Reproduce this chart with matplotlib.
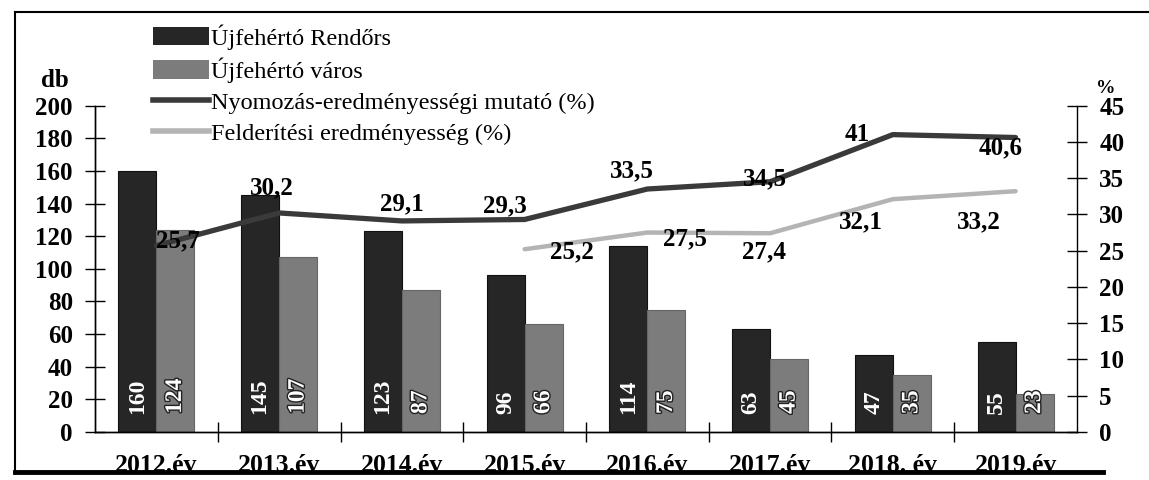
import matplotlib
matplotlib.use('Agg')
import matplotlib.pyplot as plt
import matplotlib.patheffects as pe
from matplotlib.lines import Line2D
from matplotlib.patches import Patch
import numpy as np

years = ['2012.év', '2013.év', '2014.év', '2015.év', '2016.év', '2017.év', '2018. év', '2019.év']
rendorors = [160, 145, 123, 96, 114, 63, 47, 55]
varos = [124, 107, 87, 66, 75, 45, 35, 23]
nyomozas = [25.7, 30.2, 29.1, 29.3, 33.5, 34.5, 41, 40.6]
felderitesi_years = [3, 4, 5, 6, 7]   # 2015-2019
felderitesi = [25.2, 27.5, 27.4, 32.1, 33.2]

# label offsets in pixels (dx, dy)
nyom_off = [(22, 5), (-7, 25), (0, 17), (-20, 14), (-15, 18), (-5, 3), (-36, 0), (-15, -10)]
feld_off = [(47, -3), (38, -6), (-6, -19), (-32, -23), (-37, -31)]

plt.rcParams['font.family'] = ['Liberation Serif', 'DejaVu Serif']
plt.rcParams['font.size'] = 17

fig = plt.figure(figsize=(11.49, 4.8), dpi=100)
ax = fig.add_axes([0.0827, 0.1, 0.8546, 0.68])
ax2 = ax.twinx()

x = np.arange(len(years))
w = 0.31
dark = '#262626'
grey = '#7c7c7c'
ax.bar(x - w / 2, rendorors, w, color=dark, edgecolor='#111111', linewidth=0.8, zorder=2)
ax.bar(x + w / 2, varos, w, color=grey, edgecolor='#666666', linewidth=0.8, zorder=2)

for i in range(len(years)):
    ax.annotate(str(rendorors[i]), (x[i] - w / 2, 0), xytext=(0, 18), textcoords='offset pixels',
                rotation=90, ha='center', va='bottom', color='white', fontweight='bold', fontsize=17, zorder=3)
    ax.annotate(str(varos[i]), (x[i] + w / 2, 0), xytext=(0, 18), textcoords='offset pixels',
                rotation=90, ha='center', va='bottom', color='white', fontweight='bold', fontsize=17, zorder=3,
                path_effects=[pe.withStroke(linewidth=2, foreground='#222222')])

ax.set_xlim(-0.5, len(years) - 0.5)
ax.set_ylim(0, 200)
ax.set_yticks(np.arange(0, 201, 20))
ax.set_xticks(x)
ax.set_xticklabels(years, fontweight='bold', fontsize=18.5)
ax.set_xticks(np.arange(0.5, len(years) - 0.5, 1), minor=True)
ax.tick_params(axis='x', which='major', length=0, pad=16)
ax.tick_params(axis='x', which='minor', direction='inout', length=14, width=1)
ax.tick_params(axis='y', direction='inout', length=14, width=1, pad=9, labelsize=18)
for lbl in ax.get_yticklabels():
    lbl.set_fontweight('bold')

ax2.set_ylim(0, 45)
ax2.set_yticks(np.arange(0, 46, 5))
ax2.tick_params(axis='y', direction='inout', length=14, width=1, pad=9, labelsize=18)
for lbl in ax2.get_yticklabels():
    lbl.set_fontweight('bold')

for a in (ax, ax2):
    a.spines['top'].set_visible(False)
    for s in a.spines.values():
        s.set_linewidth(1)
ax.spines['right'].set_visible(False)

ax2.plot(x, nyomozas, color='#3a3a3a', linewidth=3.8, solid_capstyle='round', zorder=4)
ax2.plot(felderitesi_years, felderitesi, color='#b4b4b4', linewidth=3.2, solid_capstyle='round', zorder=4)

for i, v in enumerate(nyomozas):
    ax2.annotate(f'{v:g}'.replace('.', ','), (x[i], v), xytext=nyom_off[i], textcoords='offset pixels',
                 ha='center', va='center', fontweight='bold', fontsize=18, zorder=5)
for k, v in enumerate(felderitesi):
    ax2.annotate(f'{v:g}'.replace('.', ','), (felderitesi_years[k], v), xytext=feld_off[k],
                 textcoords='offset pixels', ha='center', va='center', fontweight='bold', fontsize=18, zorder=5)

fig.text(0.048, 0.833, 'db', fontweight='bold', fontsize=18, ha='center', va='center')
fig.text(0.962, 0.815, '%', fontweight='bold', fontsize=14, ha='center', va='center')

handles = [Patch(facecolor=dark), Patch(facecolor=grey),
           Line2D([], [], color='#3a3a3a', linewidth=4), Line2D([], [], color='#b4b4b4', linewidth=4)]
labels = ['Újfehértó Rendőrs', 'Újfehértó város', 'Nyomozás-eredményességi mutató (%)',
          'Felderítési eredményesség (%)']
fig.legend(handles, labels, loc='upper left', bbox_to_anchor=(0.133, 0.95), frameon=False,
           handlelength=2.3, handleheight=0.8, handletextpad=0.1, labelspacing=0.33, fontsize=17.5,
           borderaxespad=0, borderpad=0)

# page frame
fig.add_artist(Line2D([0.013, 0.013], [0.02, 0.975], color='black', linewidth=1.5))
fig.add_artist(Line2D([0.013, 1.0], [0.975, 0.975], color='black', linewidth=1.5))
fig.add_artist(Line2D([0.013, 0.96], [0.016, 0.016], color='black', linewidth=3.5))

fig.savefig('out.png', dpi=100)
